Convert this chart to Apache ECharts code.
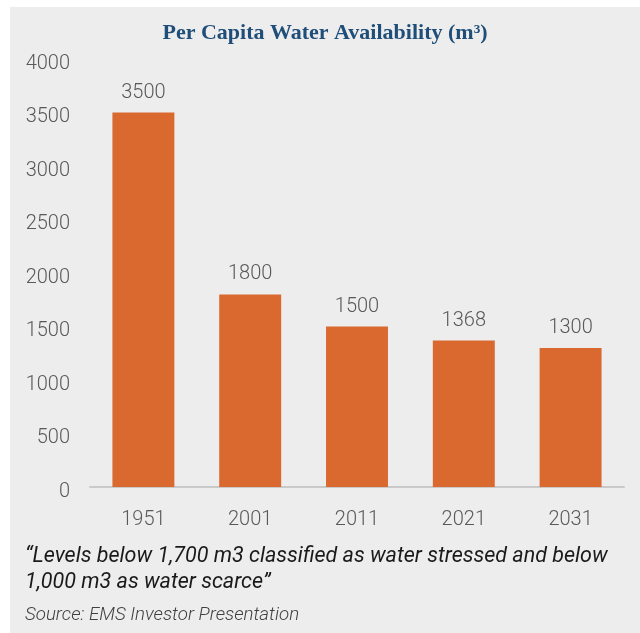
<!DOCTYPE html>
<html>
<head>
<meta charset="utf-8">
<script src="https://cdn.jsdelivr.net/npm/echarts@6/dist/echarts.min.js"></script>
<style>
  html, body { margin: 0; padding: 0; background: #fff; }
  #chart { position: absolute; left: 10px; top: 7px; width: 630px; height: 626px; background: #ededed; }
</style>
</head>
<body>
<div id="chart"></div>
<script>
  // data
  const years = ['1951', '2001', '2011', '2021', '2031']
  const availability = [3500, 1800, 1500, 1368, 1300]
  const yTicks = { min: 0, max: 4000, interval: 500 }

  const chart = echarts.init(document.getElementById('chart'))
  chart.setOption({
    backgroundColor: '#ededed',
    title: {
      text: 'Per Capita Water Availability (m³)',
      left: 'center',
      top: 10,
      textStyle: {
        fontFamily: 'Liberation Serif',
        fontWeight: 'bold',
        fontSize: 22,
        color: '#1f4e79'
      }
    },
    grid: {
      left: 80,
      right: 16,
      top: 52,
      bottom: 146
    },
    xAxis: {
      type: 'category',
      data: years,
      axisTick: { show: false },
      axisLine: { lineStyle: { color: '#c9c9c9', width: 2 } },
      axisLabel: {
        margin: 23,
        fontFamily: 'Roboto',
        fontWeight: 300,
        fontSize: 20,
        color: '#595959'
      }
    },
    yAxis: {
      type: 'value',
      min: yTicks.min,
      max: yTicks.max,
      interval: yTicks.interval,
      splitLine: { show: false },
      axisLine: { show: false },
      axisTick: { show: false },
      axisLabel: {
        margin: 20,
        // labels sit a little below their tick in the original
        formatter: v => '{t|' + v + '}',
        rich: {
          t: {
            padding: [9, 0, 0, 0],
            fontFamily: 'Roboto',
            fontWeight: 300,
            fontSize: 20,
            color: '#595959'
          }
        }
      }
    },
    series: [{
      type: 'bar',
      data: availability,
      barWidth: '58%',
      itemStyle: { color: '#d9692e' },
      label: {
        show: true,
        position: 'top',
        distance: 10,
        fontFamily: 'Roboto',
        fontWeight: 300,
        fontSize: 20,
        color: '#595959'
      },
      animation: false
    }],
    graphic: [
      {
        type: 'text',
        left: 15,
        top: 537,
        style: {
          text: '“Levels below 1,700 m3 classified as water stressed and below\n1,000 m3 as water scarce”',
          fontFamily: 'Roboto',
          fontStyle: 'italic',
          fontSize: 21.5,
          lineHeight: 26,
          fill: '#1a1a1a'
        }
      },
      {
        type: 'text',
        left: 15,
        top: 599,
        style: {
          text: 'Source: EMS Investor Presentation',
          fontFamily: 'Roboto',
          fontStyle: 'italic',
          fontWeight: 300,
          fontSize: 18.7,
          fill: '#404040'
        }
      }
    ]
  })
</script>
</body>
</html>
